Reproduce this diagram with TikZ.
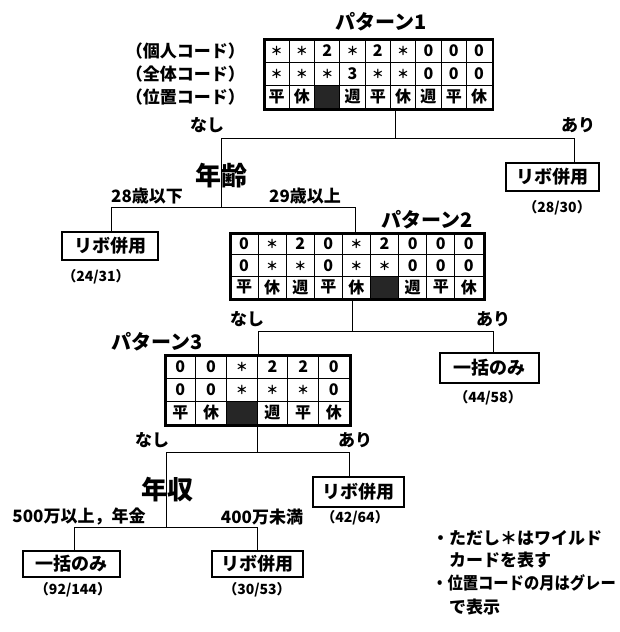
\documentclass[tikz,border=0pt]{standalone}
\usepackage{fontspec}
\setmainfont{Noto Sans CJK JP}
\usetikzlibrary{calc}
\newcommand\fsz[1]{\fontsize{#1pt}{#1pt}\selectfont\bfseries}
\newcommand\wc{{\fsz{12}＊}}
\tikzset{
 conn/.style={line width=0.9pt},
 lab/.style={inner sep=0pt, font=\fsz{17}},
 big/.style={inner sep=0pt, font=\fsz{26}},
 ttl/.style={inner sep=0pt, font=\fsz{20}},
 ratio/.style={inner sep=0pt, font=\fsz{14}},
 note/.style={inner sep=0pt, anchor=west, font=\fsz{17}},
 leaf/.style={draw, line width=1.8pt, inner sep=0pt, font=\fsz{18}},
 tbl/.style={draw, line width=1.8pt, inner sep=0pt, anchor=north west},
 gridline/.style={line width=1pt},
 cell/.style={inner sep=0pt, font=\fsz{16}},
 gcell/.style={fill=black!85},
}
% #1 name, #2 col width, #3 row height, #4 columns-1, #5 gray column, #6 rows
\newcommand\tablebody[6]{%
 \fill[gcell] ($(#1.north west)+({(#5-1)*#2},{2*#3})$) rectangle ++(#2,#3);
 \foreach \k in {1,...,#4} \draw[gridline] ($(#1.north west)+({\k*#2},0)$) -- ++(0,{3*#3});
 \draw[gridline] ($(#1.north west)+(0,#3)$) -- ++({(#4+1)*#2},0);
 \draw[gridline] ($(#1.north west)+(0,{2*#3})$) -- ++({(#4+1)*#2},0);
 \foreach \row [count=\r] in {#6} {
   \foreach \v [count=\c] in \row {
     \node[cell] at ($(#1.north west)+({(\c-0.5)*#2},{(\r-0.5)*#3})$) {\v};
   }
 }
 \draw[line width=1.8pt] (#1.north west) rectangle (#1.south east);
}
\begin{document}
\begin{tikzpicture}[x=1pt,y=-1pt]
\useasboundingbox (0,0) rectangle (620,632);

% ---- pattern 1
\node[ttl] (p1) at (381,22) {パターン1};
\node[lab, anchor=east] (l1) at (245,51) {（個人コード）};
\node[lab, anchor=east] (l2) at (245,74) {（全体コード）};
\node[lab, anchor=east] (l3) at (245,97) {（位置コード）};
\node[tbl, minimum width=227.7pt, minimum height=69pt] (T1) at (264,39) {};
\tablebody{T1}{25.3}{23}{8}{3}{{\wc,\wc,2,\wc,2,\wc,0,0,0},{\wc,\wc,\wc,3,\wc,\wc,0,0,0},{平,休,,週,平,休,週,平,休}}

\coordinate (j1) at (395,138);
\coordinate (s1L) at (221,138);
\coordinate (s1R) at (574,138);
\coordinate (s2M) at (221,207);
\node[leaf, minimum width=93pt, minimum height=28pt] (R1) at (552.5,177) {リボ併用};
\node[ratio] (r1) at (557,208) {（28/30）};
\draw[conn] (T1.south -| j1) -- (j1);
\draw[conn] (s1L) -- (s1R);
\draw[conn] (s1R) -- (R1.north -| s1R);
\draw[conn] (s1L) -- (s2M);
\node[lab] (n1) at (207,125) {なし};
\node[lab] (a1) at (578,125) {あり};
\node[big] (age) at (221,176) {年齢};

% ---- age split
\coordinate (s2L) at (111,207);
\coordinate (s2R) at (355,207);
\node[leaf, minimum width=96pt, minimum height=28pt] (L1) at (110,246) {リボ併用};
\node[ratio] (r2) at (96,277) {（24/31）};
\node[lab] (g1) at (147,196) {28歳以下};
\node[lab] (g2) at (305,196) {29歳以上};

% ---- pattern 2
\node[ttl] (p2) at (427,220) {パターン2};
\node[tbl, minimum width=252.9pt, minimum height=65.1pt] (T2) at (230,233) {};
\tablebody{T2}{28.1}{21.7}{8}{6}{{0,\wc,2,0,\wc,2,0,0,0},{0,\wc,\wc,0,\wc,\wc,0,0,0},{平,休,週,平,休,,週,平,休}}
\draw[conn] (s2L) -- (s2R);
\draw[conn] (s2L) -- (L1.north -| s2L);
\draw[conn] (s2R) -- (T2.north -| s2R);

\coordinate (j2) at (352,331);
\coordinate (s3L) at (258,331);
\coordinate (s3R) at (493,331);
\node[leaf, minimum width=99pt, minimum height=30pt] (B2) at (489.5,368) {一括のみ};
\node[ratio] (r3) at (488,398) {（44/58）};
\draw[conn] (T2.south -| j2) -- (j2);
\draw[conn] (s3L) -- (s3R);
\draw[conn] (s3R) -- (B2.north -| s3R);
\node[lab] (n2) at (247,319) {なし};
\node[lab] (a2) at (493,319) {あり};

% ---- pattern 3
\node[ttl] (p3) at (157,342) {パターン3};
\node[tbl, minimum width=184.2pt, minimum height=69pt] (T3) at (165,355) {};
\tablebody{T3}{30.7}{23}{5}{3}{{0,0,\wc,2,2,0},{0,0,\wc,\wc,\wc,0},{平,休,,週,平,休}}
\draw[conn] (s3L) -- (T3.north -| s3L);

\coordinate (j3) at (257,452);
\coordinate (s4L) at (166,452);
\coordinate (s4R) at (349,452);
\coordinate (s5M) at (166,527);
\node[leaf, minimum width=91pt, minimum height=30pt] (R3) at (358.5,492) {リボ併用};
\node[ratio] (r4) at (355,518) {（42/64）};
\draw[conn] (T3.south -| j3) -- (j3);
\draw[conn] (s4L) -- (s4R);
\draw[conn] (s4R) -- (R3.north -| s4R);
\draw[conn] (s4L) -- (s5M);
\node[lab] (n3) at (152,440) {なし};
\node[lab] (a3) at (355,440) {あり};
\node[big] (inc) at (167,490) {年収};

% ---- income split
\coordinate (s5L) at (74,527);
\coordinate (s5R) at (257,527);
\node[leaf, minimum width=97pt, minimum height=26pt] (B5) at (71.5,564) {一括のみ};
\node[ratio] (r5) at (73,590) {（92/144）};
\node[leaf, minimum width=91pt, minimum height=26pt] (R5) at (257.5,564) {リボ併用};
\node[ratio] (r6) at (257,590) {（30/53）};
\draw[conn] (s5L) -- (s5R);
\draw[conn] (s5L) -- (B5.north -| s5L);
\draw[conn] (s5R) -- (R5.north -| s5R);
\node[lab] (i1) at (79,517) {500万以上，年金};
\node[lab] (i2) at (262,517) {400万未満};

% ---- notes
\node[note] (nt1) at (432,538) {・ただし＊はワイルド};
\node[note] (nt2) at (449,560) {カードを表す};
\node[note] (nt3) at (432,583) {\scalebox{0.9}[1]{・位置コードの月はグレー}};
\node[note] (nt4) at (449,607) {で表示};
\end{tikzpicture}
\end{document}
